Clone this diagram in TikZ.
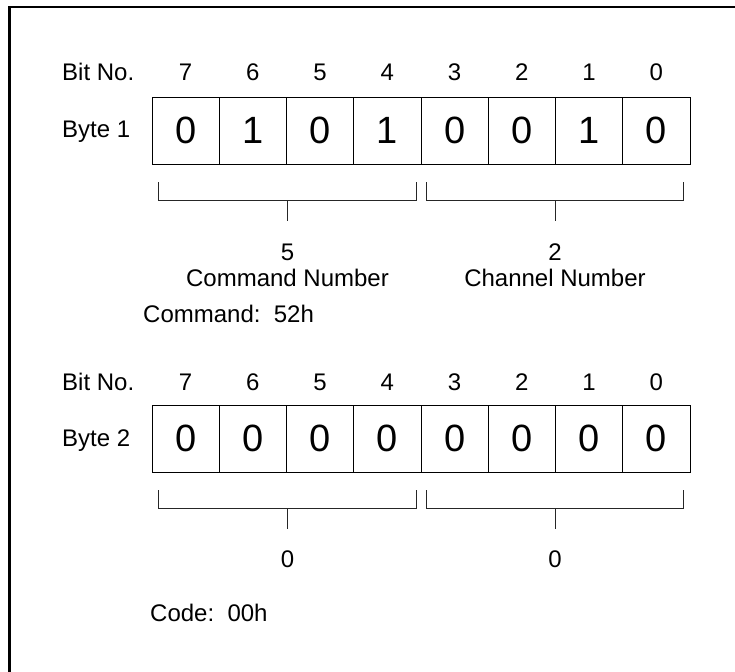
\documentclass[tikz,border=0pt]{standalone}
\usepackage{fontspec}
\setmainfont{Liberation Sans}
\usetikzlibrary{calc}
\begin{document}
\begin{tikzpicture}[x=1pt,y=-1pt,
  txt/.style={font=\fontsize{24}{28}\selectfont, inner sep=0pt},
  cell/.style={draw, line width=0.9pt, minimum width=67.25pt, minimum height=67pt, inner sep=0pt, font=\fontsize{38}{44}\selectfont},
  brk/.style={line width=0.8pt, black!85},
  frame/.style={line width=2.7pt}]
\useasboundingbox (0,0) rectangle (735,671);
\coordinate (fbl) at (9.7,672);
\coordinate (ftl) at (9.7,7);
\coordinate (ftr) at (736,7);
\draw[frame] (fbl) -- (ftl) -- (ftr);

% ---------- Byte 1 ----------
\node[txt, anchor=base west] (bitno1) at (62,81) {Bit No.};
\node[txt, anchor=base west] (byte1) at (62,138) {Byte 1};
\foreach \v [count=\i from 0] in {0,1,0,1,0,0,1,0} {
  \pgfmathsetmacro{\bit}{int(7-\i)}
  \node[cell] (a\i) at ({152+67.25*\i+33.625},130.5) {\v};
  \node[txt, anchor=base] (an\i) at ({152+67.25*\i+33.625},81) {\bit};
}
\coordinate (aL1) at ($(a0.south west)+(7,18)$);
\coordinate (aL2) at ($(a0.south west)+(7,36)$);
\coordinate (aL3) at ($(a3.south east)+(-5,36)$);
\coordinate (aL4) at ($(a3.south east)+(-5,18)$);
\coordinate (aLm) at ($(aL2)!0.5!(aL3)$);
\coordinate (aLs) at ($(aLm)+(0,21)$);
\draw[brk] (aL1) -- (aL2) -- (aL3) -- (aL4);
\draw[brk] (aLm) -- (aLs);
\coordinate (aR1) at ($(a4.south west)+(6,18)$);
\coordinate (aR2) at ($(a4.south west)+(6,36)$);
\coordinate (aR3) at ($(a7.south east)+(-7,36)$);
\coordinate (aR4) at ($(a7.south east)+(-7,18)$);
\coordinate (aRm) at ($(aR2)!0.5!(aR3)$);
\coordinate (aRs) at ($(aRm)+(0,21)$);
\draw[brk] (aR1) -- (aR2) -- (aR3) -- (aR4);
\draw[brk] (aRm) -- (aRs);
\node[txt, anchor=base] (cmdval) at ($(aLm)+(0,60)$) {5};
\node[txt, anchor=base] (cmdlbl) at ($(aLm)+(0,86)$) {Command Number};
\node[txt, anchor=base] (chval) at ($(aRm)+(0,60)$) {2};
\node[txt, anchor=base] (chlbl) at ($(aRm)+(0,86)$) {Channel Number};
\node[txt, anchor=base west] (cmd) at (143,322) {Command:\ \ 52h};

% ---------- Byte 2 ----------
\node[txt, anchor=base west] (bitno2) at (62,390) {Bit No.};
\node[txt, anchor=base west] (byte2) at (62,446) {Byte 2};
\foreach \v [count=\i from 0] in {0,0,0,0,0,0,0,0} {
  \pgfmathsetmacro{\bit}{int(7-\i)}
  \node[cell] (b\i) at ({152+67.25*\i+33.625},438.5) {\v};
  \node[txt, anchor=base] (bn\i) at ({152+67.25*\i+33.625},390) {\bit};
}
\coordinate (bL1) at ($(b0.south west)+(7,18)$);
\coordinate (bL2) at ($(b0.south west)+(7,36)$);
\coordinate (bL3) at ($(b3.south east)+(-5,36)$);
\coordinate (bL4) at ($(b3.south east)+(-5,18)$);
\coordinate (bLm) at ($(bL2)!0.5!(bL3)$);
\coordinate (bLs) at ($(bLm)+(0,21)$);
\draw[brk] (bL1) -- (bL2) -- (bL3) -- (bL4);
\draw[brk] (bLm) -- (bLs);
\coordinate (bR1) at ($(b4.south west)+(6,18)$);
\coordinate (bR2) at ($(b4.south west)+(6,36)$);
\coordinate (bR3) at ($(b7.south east)+(-7,36)$);
\coordinate (bR4) at ($(b7.south east)+(-7,18)$);
\coordinate (bRm) at ($(bR2)!0.5!(bR3)$);
\coordinate (bRs) at ($(bRm)+(0,21)$);
\draw[brk] (bR1) -- (bR2) -- (bR3) -- (bR4);
\draw[brk] (bRm) -- (bRs);
\node[txt, anchor=base] (b2lval) at ($(bLm)+(0,59)$) {0};
\node[txt, anchor=base] (b2rval) at ($(bRm)+(0,59)$) {0};
\node[txt, anchor=base west] (code) at (150,621) {Code:\ \ 00h};
\end{tikzpicture}
\end{document}
